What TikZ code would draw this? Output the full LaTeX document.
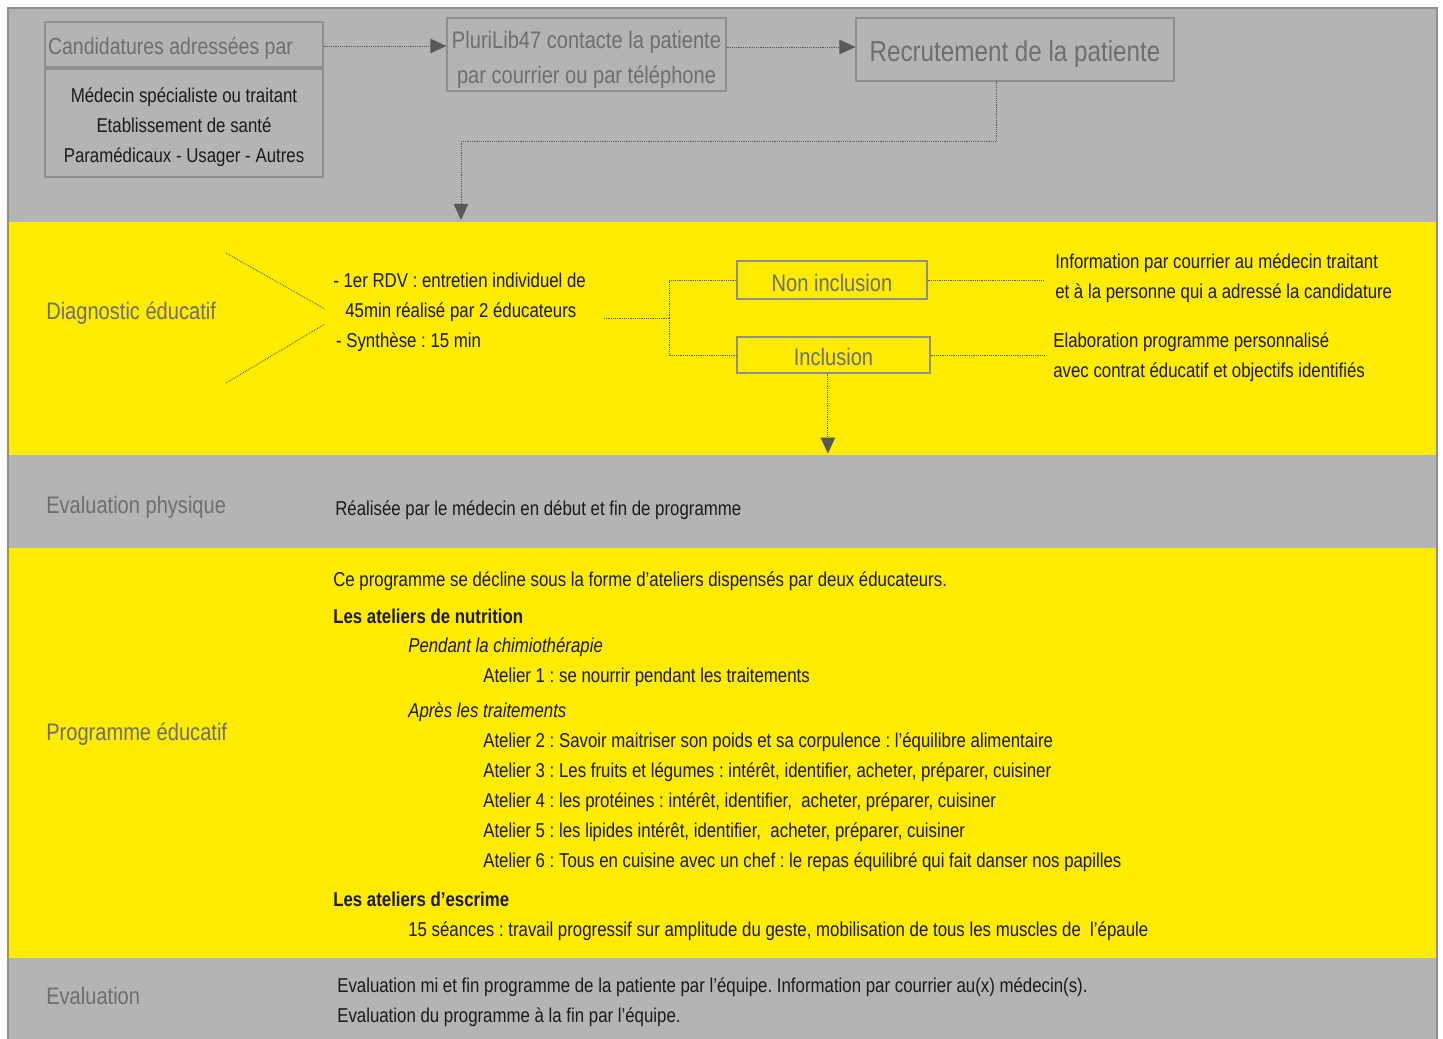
\documentclass[tikz,border=0pt]{standalone}
\usepackage{fontspec}
\setmainfont{Liberation Sans}[FakeStretch=0.84]
\usetikzlibrary{arrows.meta,positioning}
\frenchspacing

\definecolor{fondgris}{HTML}{B3B4B6}
\definecolor{fondjaune}{HTML}{FFEC00}
\definecolor{bordgris}{HTML}{8E8F91}
\definecolor{titregris}{HTML}{6D6E70}
\definecolor{texte}{HTML}{1C1A1B}
\definecolor{pointe}{HTML}{58595B}
\newcommand{\decale}[1]{\rule{0pt}{#1}}

\begin{document}
\begin{tikzpicture}[x=0.025cm,y=-0.025cm,
  cadre/.style={rectangle,draw=bordgris,line width=0.8pt,inner sep=0pt,align=center},
  titre/.style={text=titregris,font=\fontsize{17}{20}\selectfont},
  corps/.style={text=texte,font=\fontsize{14.25}{21.3}\selectfont,align=left,inner sep=0pt},
  rubrique/.style={anchor=west,inner sep=0pt,text=titregris,font=\fontsize{17}{20}\selectfont},
  pointille/.style={draw=pointe,line width=0.6pt,dash pattern=on 0.6pt off 0.7pt},
  fleche/.style={pointille,-{Triangle[length=0.4cm,width=0.36cm,fill=pointe]}}
]
% bandes de fond
\useasboundingbox (0,0) rectangle (1443,1039);
\fill[white] (0,0) rectangle (1443,1039);
\fill[fondgris]   (8,8)   rectangle (1437,222);
\fill[fondjaune]  (8,222) rectangle (1437,455);
\fill[fondgris]   (8,455) rectangle (1437,548);
\fill[fondjaune]  (8,548) rectangle (1437,958);
\fill[fondgris]   (8,958) rectangle (1437,1039);
\draw[bordgris,line width=1.5pt] (8,1045) -- (8,8) -- (1437,8) -- (1437,1045);

% recrutement
\node[cadre,titre,font=\fontsize{16.5}{20}\selectfont,minimum width=6.95cm,minimum height=1.125cm] (cand) at (184,44.5)
  {\decale{17.9pt}Candidatures adressées par\hspace*{0.675cm}};
\node[cadre,corps,align=center,minimum width=6.95cm,minimum height=2.7cm] (origine) at (184,123)
  {\decale{16.2pt}Médecin spécialiste ou traitant\\Etablissement de santé\\Paramédicaux - Usager - Autres};
\node[cadre,titre,font=\fontsize{17}{25}\selectfont,minimum width=6.975cm,minimum height=1.825cm] (contact) at (586.5,54.5)
  {\decale{19.4pt}PluriLib47 contacte la patiente\\par courrier ou par téléphone};
\node[cadre,titre,font=\fontsize{20.5}{24}\selectfont,minimum width=7.95cm,minimum height=1.575cm] (recrut) at (1015,49.5)
  {\decale{21.9pt}Recrutement de la patiente};
\coordinate (entree) at (461,220);

\draw[fleche] (cand.east |- 0,46) -- (contact.west |- 0,46);
\draw[fleche] (contact.east |- 0,47) -- (recrut.west |- 0,47);
\draw[fleche] ([xshift=-0.475cm]recrut.south) -- ++(0,60) -| (entree);

% diagnostic
\node[rubrique] (diag) at (46,313) {Diagnostic éducatif};
\draw[pointille] (226,253) -- (325,309);
\draw[pointille] (226,383) -- (325,324);
\node[corps,anchor=west] (entretien) at (333,312)
  {- 1er RDV : entretien individuel de\\\hspace*{0.3cm}45min réalisé par 2 éducateurs\\\hspace*{0.07cm}- Synthèse : 15 min};
\node[cadre,titre,minimum width=4.75cm,minimum height=0.95cm] (noninc) at (832,280) {\decale{16.4pt}Non inclusion};
\node[cadre,titre,minimum width=4.825cm,minimum height=0.9cm] (inc) at (833.5,355) {\decale{15pt}Inclusion};
\coordinate (bif) at (669,318);
\draw[pointille] (604,318) -- (bif);
\draw[pointille] (bif) |- (noninc.west);
\draw[pointille] (bif) |- (inc.west);
\node[corps,anchor=west] (courrier) at (1055,278)
  {Information par courrier au médecin traitant\\et à la personne qui a adressé la candidature};
\node[corps,anchor=west] (contrat) at (1053,357)
  {Elaboration programme personnalisé\\avec contrat éducatif et objectifs identifiés};
\draw[pointille] (noninc.east) -- ([xshift=-0.3cm]courrier.west |- noninc.east);
\draw[pointille] (inc.east) -- ([xshift=-0.2cm]contrat.west |- inc.east);
\draw[fleche] ([xshift=-0.14cm]inc.south) -- ++(0,80);

% evaluation physique
\node[rubrique] (physique) at (46,507) {Evaluation physique};
\node[corps,anchor=west] (realisee) at (335,510) {Réalisée par le médecin en début et fin de programme};

% programme
\node[rubrique] (programme) at (46,734) {Programme éducatif};
\node[corps,anchor=north west] (ateliers) at (333,571)
  {Ce programme se décline sous la forme d’ateliers dispensés par deux éducateurs.\\[5pt]
   \textbf{Les ateliers de nutrition}\\
   \hspace*{1.875cm}\textit{Pendant la chimiothérapie}\\
   \hspace*{3.75cm}Atelier 1 : se nourrir pendant les traitements\\[3.6pt]
   \hspace*{1.875cm}\textit{Après les traitements}\\
   \hspace*{3.75cm}Atelier 2 : Savoir maitriser son poids et sa corpulence : l’équilibre alimentaire\\
   \hspace*{3.75cm}Atelier 3 : Les fruits et légumes : intérêt, identifier, acheter, préparer, cuisiner\\
   \hspace*{3.75cm}Atelier 4 : les protéines : intérêt, identifier,\ \ acheter, préparer, cuisiner\\
   \hspace*{3.75cm}Atelier 5 : les lipides intérêt, identifier,\ \ acheter, préparer, cuisiner\\
   \hspace*{3.75cm}Atelier 6 : Tous en cuisine avec un chef : le repas équilibré qui fait danser nos papilles\\[6.4pt]
   \textbf{Les ateliers d’escrime}\\
   \hspace*{1.875cm}15 séances : travail progressif sur amplitude du geste, mobilisation de tous les muscles de\ \ l’épaule};

% evaluation
\node[rubrique] (evaluation) at (46,996) {Evaluation};
\node[corps,anchor=west] (bilan) at (337,1002)
  {Evaluation mi et fin programme de la patiente par l’équipe. Information par courrier au(x) médecin(s).\\
   Evaluation du programme à la fin par l’équipe.};
\end{tikzpicture}
\end{document}
